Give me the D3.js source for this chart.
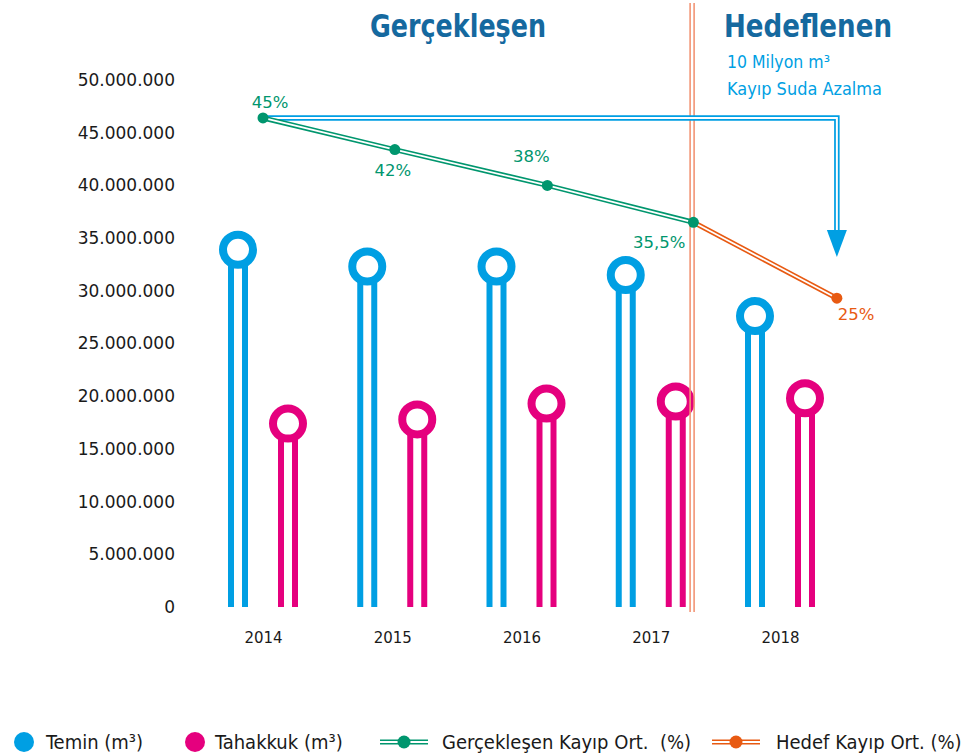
<!DOCTYPE html>
<html>
<head>
<meta charset="utf-8">
<script src="https://cdn.jsdelivr.net/npm/d3@7"></script>
<style>
  body { margin: 0; background: #fff; }
  svg { display: block; }
</style>
</head>
<body>
<div id="chart"></div>
<script>
// ---- data ----
var years = [2014, 2015, 2016, 2017, 2018];
var teminValues = [33.9e6, 32.3e6, 32.3e6, 31.5e6, 27.6e6];
var tahakkukValues = [17.4e6, 17.8e6, 19.3e6, 19.5e6, 19.8e6];
var yTicks = [0, 5e6, 10e6, 15e6, 20e6, 25e6, 30e6, 35e6, 40e6, 45e6, 50e6];

// loss rate line: labels, and where each point sits (year position, height on the left axis)
var lossLabels = ["45%", "42%", "38%", "35,5%", "25%"];
var lossYears = [2014, 2015.02, 2016.2, 2017.33, 2018.44];
var lossLevels = [46.4e6, 43.4e6, 40.0e6, 36.5e6, 29.3e6];

var dividerYear = 2017.32;     // split between "Gerçekleşen" and "Hedeflenen"
var arrowYear = 2018.44;       // blue arrow drops here
var arrowTip = 33.2e6;

var legendLabels = ["Temin (m³)", "Tahakkuk (m³)", "Gerçekleşen Kayıp Ort.  (%)", "Hedef Kayıp Ort. (%)"];

// ---- settings ----
var width = 975, height = 756;
var blue = "#009fe3", pink = "#e5007e", green = "#00966e", orange = "#e85a12",
    salmon = "#f29474", titleBlue = "#15699f", textColor = "#1a1a1a";
var font = "'DejaVu Sans', sans-serif";
var condFont = "'DejaVu Sans Condensed', 'DejaVu Sans', sans-serif";

var svg = d3.select("#chart").append("svg")
    .attr("width", width)
    .attr("height", height);

var x = d3.scaleLinear().domain([2014, 2018]).range([263, 780]);
var y = d3.scaleLinear().domain([0, 50e6]).range([607, 80]);
var groupOffset = 25;

// y axis
var yAxis = d3.axisLeft(y)
    .tickValues(yTicks)
    .tickSize(0)
    .tickPadding(0)
    .tickFormat(function(d) { return d3.format(",")(d).replace(/,/g, "."); });
var gy = svg.append("g").attr("transform", "translate(175,0)").call(yAxis);
gy.select(".domain").remove();
gy.selectAll("text").attr("fill", textColor).style("font-family", font).style("font-size", "17px");

// x axis
var xAxis = d3.axisBottom(x)
    .tickValues(years)
    .tickSize(0)
    .tickPadding(25)
    .tickFormat(d3.format("d"));
var gx = svg.append("g").attr("transform", "translate(0,607)").call(xAxis);
gx.select(".domain").remove();
gx.selectAll("text").attr("fill", textColor).style("font-family", font).style("font-size", "15px");

// lollipop bars: double stem + ring on top
function drawStems(values, offset, color) {
    var g = svg.append("g");
    var stems = g.selectAll(".stem").data(values).enter();
    stems.append("rect")
        .attr("x", function(d, i) { return x(years[i]) + offset - 10; })
        .attr("y", function(d) { return y(d); })
        .attr("width", 20)
        .attr("height", function(d) { return y(0) - y(d); })
        .attr("fill", color);
    stems.append("rect")
        .attr("x", function(d, i) { return x(years[i]) + offset - 4; })
        .attr("y", function(d) { return y(d); })
        .attr("width", 8)
        .attr("height", function(d) { return y(0) - y(d); })
        .attr("fill", "#fff");
    g.selectAll(".ring").data(values).enter().append("circle")
        .attr("cx", function(d, i) { return x(years[i]) + offset; })
        .attr("cy", function(d) { return y(d); })
        .attr("r", 15)
        .attr("fill", "#fff")
        .attr("stroke", color)
        .attr("stroke-width", 8);
}
drawStems(teminValues, -groupOffset, blue);
drawStems(tahakkukValues, groupOffset, pink);

// divider
var dx = x(dividerYear);
[-2, 2].forEach(function(o) {
    svg.append("line")
        .attr("x1", dx + o).attr("x2", dx + o)
        .attr("y1", 3).attr("y2", 612)
        .attr("stroke", salmon)
        .attr("stroke-width", 1.6);
});

// double line helper
function doubleLine(sel, d, color, outer, inner) {
    sel.append("path").attr("d", d).attr("fill", "none")
        .attr("stroke", color).attr("stroke-width", outer);
    sel.append("path").attr("d", d).attr("fill", "none")
        .attr("stroke", "#fff").attr("stroke-width", inner);
}

// blue arrow
var ax = x(arrowYear), tipY = y(arrowTip), headTop = tipY - 27;
var arrowPath = "M" + x(lossYears[0]) + "," + y(lossLevels[0]) +
    "H" + ax + "V" + headTop;
var arrowG = svg.append("g");
doubleLine(arrowG, arrowPath, blue, 5.5, 2);
arrowG.append("path")
    .attr("d", "M" + (ax - 10) + "," + headTop + "L" + (ax + 10) + "," + headTop + "L" + ax + "," + tipY + "Z")
    .attr("fill", blue);

// loss line
var points = lossYears.map(function(d, i) { return { year: d, level: lossLevels[i], label: lossLabels[i] }; });
var line = d3.line().x(function(d) { return x(d.year); }).y(function(d) { return y(d.level); });
var lossG = svg.append("g");
doubleLine(lossG, line(points.slice(3)), orange, 5, 1.8);
doubleLine(lossG, line(points.slice(0, 4)), green, 5, 1.8);
lossG.selectAll(".dot").data(points).enter().append("circle")
    .attr("cx", function(d) { return x(d.year); })
    .attr("cy", function(d) { return y(d.level); })
    .attr("r", 5.5)
    .attr("fill", function(d, i) { return i === 4 ? orange : green; });

var labelPos = [
    { dx: 7, dy: -10, anchor: "middle" },
    { dx: -2, dy: 26, anchor: "middle" },
    { dx: -16, dy: -23, anchor: "middle" },
    { dx: -8, dy: 26, anchor: "end" },
    { dx: 1, dy: 22, anchor: "start" }
];
lossG.selectAll(".plabel").data(points).enter().append("text")
    .attr("x", function(d, i) { return x(d.year) + labelPos[i].dx; })
    .attr("y", function(d, i) { return y(d.level) + labelPos[i].dy; })
    .attr("text-anchor", function(d, i) { return labelPos[i].anchor; })
    .attr("fill", function(d, i) { return i === 4 ? orange : green; })
    .style("font-family", font)
    .style("font-size", "16.5px")
    .text(function(d) { return d.label; });

// titles
svg.append("text").attr("x", 458).attr("y", 37).attr("text-anchor", "middle")
    .attr("fill", titleBlue).style("font-family", condFont).style("font-size", "32px")
    .style("font-weight", "bold").attr("textLength", 176).attr("lengthAdjust", "spacingAndGlyphs")
    .text("Gerçekleşen");
svg.append("text").attr("x", 808).attr("y", 37).attr("text-anchor", "middle")
    .attr("fill", titleBlue).style("font-family", condFont).style("font-size", "32px")
    .style("font-weight", "bold").attr("textLength", 168).attr("lengthAdjust", "spacingAndGlyphs")
    .text("Hedeflenen");
svg.append("text").attr("x", 727).attr("y", 68)
    .attr("fill", blue).style("font-family", condFont).style("font-size", "17.5px")
    .text("10 Milyon m³");
svg.append("text").attr("x", 727).attr("y", 95)
    .attr("fill", blue).style("font-family", condFont).style("font-size", "17.5px")
    .attr("textLength", 155).attr("lengthAdjust", "spacingAndGlyphs")
    .text("Kayıp Suda Azalma");

// legend
var legendY = 742;
var legendX = [24, 195, 404, 736];
var legendTextX = [46, 215, 442, 776];
var legendColors = [blue, pink, green, orange];
var legend = svg.append("g");
legendLabels.forEach(function(label, i) {
    if (i < 2) {
        legend.append("circle").attr("cx", legendX[i]).attr("cy", legendY).attr("r", 10)
            .attr("fill", legendColors[i]);
    } else {
        doubleLine(legend, "M" + (legendX[i] - 24) + "," + legendY + "H" + (legendX[i] + 24),
            legendColors[i], 5, 1.8);
        legend.append("circle").attr("cx", legendX[i]).attr("cy", legendY).attr("r", 6.5)
            .attr("fill", legendColors[i]);
    }
    legend.append("text").attr("x", legendTextX[i]).attr("y", legendY + 7)
        .attr("fill", textColor).style("font-family", condFont).style("font-size", "20px")
        .style("white-space", "pre")
        .text(label);
});
</script>
</body>
</html>
